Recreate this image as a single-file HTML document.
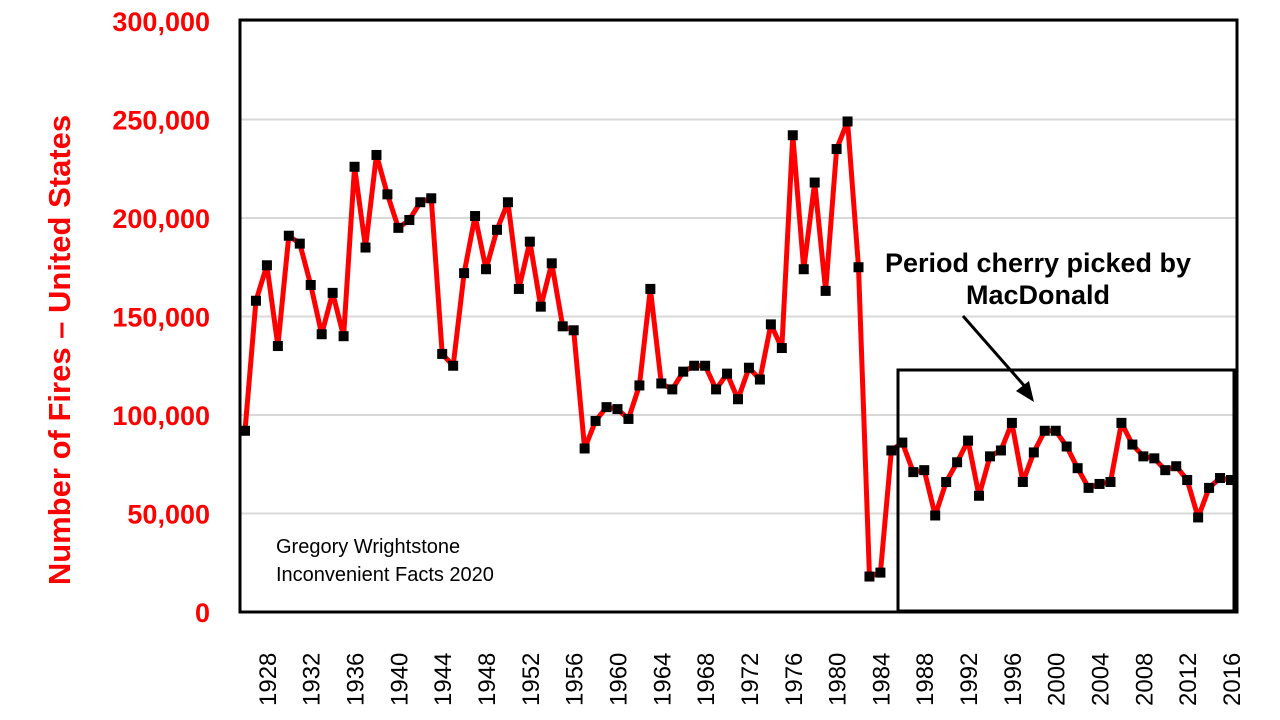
<!DOCTYPE html>
<html><head><meta charset="utf-8"><style>
body{margin:0;background:#fff;}
svg{display:block;font-family:"Liberation Sans",Arial,sans-serif;}
</style></head><body>
<svg id="chart" width="1280" height="720">
<g id="grid"></g>
<g id="yticks"></g>
<g id="xticks"></g>
<text transform="translate(70,350) rotate(-90)" text-anchor="middle" fill="#ff0000" font-size="31" font-weight="bold">Number of Fires – United States</text>
<rect x="240" y="20" width="997" height="592" fill="none" stroke="#000" stroke-width="3"/>
<g id="series"></g>
<rect x="898" y="370" width="336" height="241" fill="none" stroke="#000" stroke-width="3"/>
<text x="1038" y="272" text-anchor="middle" font-size="27" font-weight="bold">Period cherry picked by</text>
<text x="1038" y="304" text-anchor="middle" font-size="27" font-weight="bold">MacDonald</text>
<line x1="963" y1="316" x2="1028" y2="390" stroke="#000" stroke-width="3"/>
<polygon points="1034,402 1016,391 1029,381" fill="#000"/>
<text x="276" y="553" font-size="20">Gregory Wrightstone</text>
<text x="276" y="581" font-size="20">Inconvenient Facts 2020</text>
</svg>
<script>
const years=[];for(let y=1926;y<=2016;y++)years.push(y);
const fires=[92,158,176,135,191,187,166,141,162,140,226,185,232,212,195,199,208,210,131,125,172,201,174,194,208,164,188,155,177,145,143,83,97,104,103,98,115,164,116,113,122,125,125,113,121,108,124,118,146,134,242,174,218,163,235,249,175,18,20,82,86,71,72,49,66,76,87,59,79,82,96,66,81,92,92,84,73,63,65,66,96,85,79,78,72,74,67,48,63,68,67].map(v=>v*1000);
const yTicks=[0,50000,100000,150000,200000,250000,300000];
const xTickYears=[1928,1932,1936,1940,1944,1948,1952,1956,1960,1964,1968,1972,1976,1980,1984,1988,1992,1996,2000,2004,2008,2012,2016];
const NS="http://www.w3.org/2000/svg";
const xs=y=>245+(y-1926)*(1231-245)/90;
const ys=v=>612-v*(612-21)/300000;
function mk(t,a,p){const e=document.createElementNS(NS,t);for(const k in a)e.setAttribute(k,a[k]);p.appendChild(e);return e;}
const grid=document.getElementById('grid'),yt=document.getElementById('yticks'),xt=document.getElementById('xticks'),se=document.getElementById('series');
yTicks.forEach(v=>{
 if(v>0){const l=mk('line',{x1:240,x2:1237,y1:ys(v),y2:ys(v),stroke:'#d9d9d9','stroke-width':2},grid);
 
 }
 const t=mk('text',{x:210,y:ys(v)+10,'text-anchor':'end',fill:'#ff0000','font-size':27,'font-weight':'bold'},yt);
 t.textContent=v.toLocaleString('en-US');
 
 
});
xTickYears.forEach(y=>{
 const t=mk('text',{transform:`translate(${xs(y)+9},706) rotate(-90)`,'font-size':24},xt);
 t.textContent=y;
 
 
});
const pl=mk('polyline',{points:years.map((y,i)=>xs(y)+','+ys(fires[i])).join(' '),fill:'none',stroke:'#ff0000','stroke-width':5,'stroke-linejoin':'round'},se);


years.forEach((y,i)=>{
 const r=mk('rect',{x:xs(y)-5,y:ys(fires[i])-5,width:10,height:10,fill:'#000'},se);
 
 
});
</script>
</body></html>
